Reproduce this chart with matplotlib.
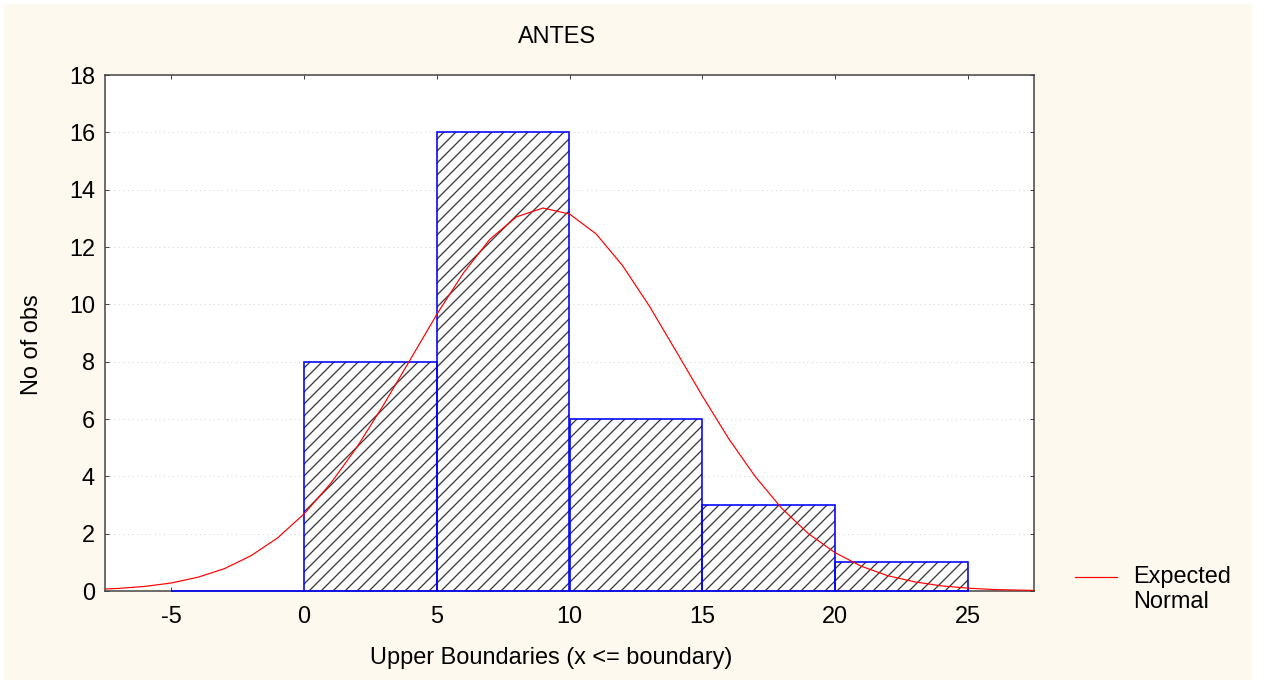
import numpy as np
import matplotlib
matplotlib.use("Agg")
import matplotlib.pyplot as plt
from matplotlib.lines import Line2D
from matplotlib.patches import Rectangle

# histogram bins (upper boundaries) and counts
BIN_EDGES = [-5, 0, 5, 10, 15, 20, 25]
COUNTS = [0, 8, 16, 6, 3, 1]

# expected normal curve at unit steps
CURVE_X = [-8, -7, -6, -5, -4, -3, -2, -1, 0, 1, 2, 3, 4, 5, 6, 7, 8, 9, 10,
           11, 12, 13, 14, 15, 16, 17, 18, 19, 20, 21, 22, 23, 24, 25, 26, 27, 28]
CURVE_Y = [0.05, 0.09, 0.16, 0.28, 0.48, 0.78, 1.23, 1.85, 2.69, 3.75, 5.03, 6.50,
           8.07, 9.65, 11.09, 12.27, 13.05, 13.36, 13.15, 12.46, 11.35, 9.95, 8.39,
           6.81, 5.31, 3.99, 2.88, 2.00, 1.34, 0.86, 0.53, 0.32, 0.18, 0.10, 0.05,
           0.03, 0.01]

X_TICKS = [-5, 0, 5, 10, 15, 20, 25]
Y_TICKS = [0, 2, 4, 6, 8, 10, 12, 14, 16, 18]

CREAM = "#fdf9ee"
DPI = 72
FS = 23.5

plt.rcParams['font.family'] = ['Liberation Sans', 'DejaVu Sans']
plt.rcParams['axes.unicode_minus'] = False
plt.rcParams['hatch.linewidth'] = 1.3

fig = plt.figure(figsize=(1265 / DPI, 684 / DPI), dpi=DPI, facecolor="white")
fig.patches.append(Rectangle((4 / 1265, 4 / 684), 1248 / 1265, 676 / 684,
                             transform=fig.transFigure, facecolor=CREAM,
                             edgecolor="none", zorder=-10))

ax = fig.add_axes([105 / 1265, 93 / 684, 929 / 1265, 516 / 684])
ax.set_facecolor("white")

lefts = BIN_EDGES[:-1]
widths = np.diff(BIN_EDGES)

# hatch fill first, then the blue outline on top
ax.bar(lefts, COUNTS, width=widths, align="edge", facecolor="white",
       edgecolor="#3a3a3a", linewidth=0, hatch="//", zorder=2)
ax.bar(lefts, COUNTS, width=widths, align="edge", fill=False,
       edgecolor="#0000ff", linewidth=1.6, zorder=3, clip_on=False)

ax.plot(CURVE_X, CURVE_Y, color="red", linewidth=1.2, zorder=4)

ax.set_xlim(-7.5, 27.5)
ax.set_ylim(0, 18)
ax.set_xticks(X_TICKS)
ax.set_yticks(Y_TICKS)
ax.tick_params(axis="both", labelsize=FS, direction="in", length=4,
               width=1, color="#404040", top=True, right=True)
ax.tick_params(axis="x", pad=15)
ax.tick_params(axis="y", pad=10)
ax.yaxis.grid(True, linestyle=(0, (1, 4)), color="#c8c8c8", linewidth=0.9)
ax.set_axisbelow(True)
for sp in ax.spines.values():
    sp.set_color("#404040")
    sp.set_linewidth(1.5)

ax.set_xlabel("Upper Boundaries (x <= boundary)", fontsize=FS, va="center")
ax.xaxis.set_label_coords((551 - 105) / 929, -(658 - 591) / 516)
ax.set_ylabel("No of obs", fontsize=FS, va="center")
ax.yaxis.set_label_coords(-(105 - 32) / 929, (591 - 345) / 516)
fig.text(557 / 1265, 1 - 37 / 684, "ANTES", fontsize=FS, ha="center", va="center")

# legend drawn by hand next to the plot
fig.add_artist(Line2D([1075 / 1265, 1117 / 1265], [1 - 577 / 684, 1 - 577 / 684],
                      transform=fig.transFigure, color="red", linewidth=1.2))
fig.text(1133 / 1265, 1 - 566 / 684, "Expected\nNormal", fontsize=FS,
         ha="left", va="top", linespacing=1.15)

fig.savefig("out.png", dpi=DPI, facecolor=fig.get_facecolor())
